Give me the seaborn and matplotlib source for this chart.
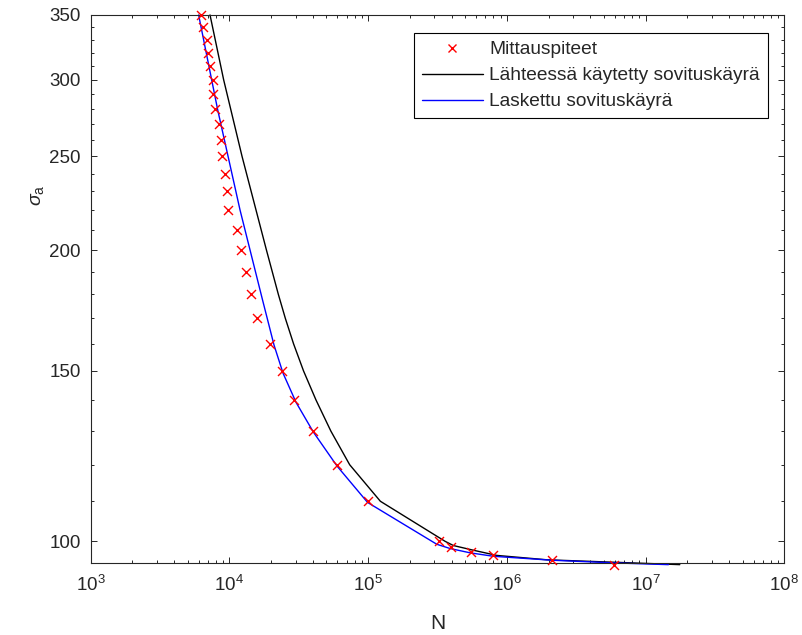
import matplotlib
matplotlib.use("Agg")
import matplotlib.pyplot as plt
from matplotlib.lines import Line2D
from matplotlib.ticker import FixedLocator, NullFormatter, LogLocator
import seaborn as sns

sns.set_theme(style="ticks")
plt.rcParams['font.family'] = ['Liberation Sans', 'DejaVu Sans']
plt.rcParams['mathtext.fontset'] = 'custom'
plt.rcParams['mathtext.rm'] = 'Liberation Sans'
plt.rcParams['mathtext.it'] = 'Liberation Sans:italic'

AX_COLOR = '#262626'

# Measured points (Mittauspiteet)
meas_sigma = [350, 340, 330, 320, 310, 300, 290, 280, 270, 260, 250, 240,
              230, 220, 210, 200, 190, 180, 170, 160, 150, 140, 130, 120,
              110, 100, 98.7, 97.5, 96.9, 95.6, 94.5]
meas_N = [6209, 6420, 6861, 7045, 7245, 7578, 7654, 7912, 8456, 8655, 8800,
          9296, 9561, 9819, 11288, 12122, 13176, 14243, 15893, 19621, 24068,
          29382, 40260, 59690, 99350, 324500, 398000, 547400, 788600,
          2107000, 5960000]

# Fit curve from the source (Lähteessä käytetty sovituskäyrä)
src_sigma = [350, 300, 250, 200, 180, 170, 160, 150, 140, 130, 120, 110,
             100, 99.0, 97.9, 96.7, 95.7, 94.6]
src_N = [7246, 9083, 12326, 18486, 22520, 25294, 28995, 34216, 42050, 53840,
         73560, 122460, 358500, 411500, 573500, 845600, 1940000, 17640000]

# Calculated fit curve (Laskettu sovituskäyrä)
fit_sigma = [350, 279.2, 220.0, 177.6, 159.5, 149.2, 139.2, 129.7, 119.6,
             109.7, 99.3, 98.3, 97.3, 96.5, 95.6, 95.0, 94.6]
fit_N = [5997, 8232, 11925, 17326, 20971, 24349, 30210, 40260, 59690, 99010,
         312400, 389500, 542800, 799000, 2107000, 5860000, 14600000]

y_major = [100, 150, 200, 250, 300, 350]
y_minor = [v for v in range(100, 351, 10) if v not in y_major]

fig = plt.figure(figsize=(8.02, 6.35), dpi=100)
ax = fig.add_axes([0.1131, 0.1129, 0.8649, 0.8635])

sns.lineplot(x=src_N, y=src_sigma, color='black', lw=1.0, ax=ax,
             sort=False, estimator=None, clip_on=False)
sns.lineplot(x=fit_N, y=fit_sigma, color='#0000ff', lw=1.0, ax=ax,
             sort=False, estimator=None, clip_on=False)
sns.scatterplot(x=meas_N, y=meas_sigma, marker='x', color='#ff0000', s=42,
                linewidth=1.0, ax=ax, clip_on=False, zorder=3)

ax.set_xscale('log')
ax.set_yscale('log')
ax.set_xlim(1e3, 1e8)
ax.set_ylim(94.9, 350)

ax.set_yticks(y_major, labels=[str(v) for v in y_major])
ax.yaxis.set_minor_locator(FixedLocator(y_minor))
ax.yaxis.set_minor_formatter(NullFormatter())
ax.xaxis.set_major_locator(LogLocator(base=10, numticks=10))
ax.xaxis.set_minor_locator(LogLocator(base=10, subs=range(2, 10), numticks=100))
ax.xaxis.set_minor_formatter(NullFormatter())

for s in ax.spines.values():
    s.set_visible(True)
    s.set_color(AX_COLOR)
    s.set_linewidth(0.8)

ax.tick_params(which='both', direction='in', top=True, right=True,
               colors=AX_COLOR, width=0.7)
ax.tick_params(which='major', length=4.5, labelsize=13.5)
ax.tick_params(axis='x', which='major', pad=8)
ax.tick_params(axis='y', which='major', pad=7)
ax.tick_params(which='minor', length=2.5)

ax.set_xlabel('N', fontsize=15, color=AX_COLOR, labelpad=14)
ax.set_ylabel(r'$\sigma_\mathrm{a}$', fontsize=14, color=AX_COLOR)
ax.yaxis.set_label_coords(-0.064, 0.672)

handles = [
    Line2D([], [], ls='none', marker='x', color='#ff0000', markersize=6,
           markeredgewidth=1.0),
    Line2D([], [], color='black', lw=1.0),
    Line2D([], [], color='#0000ff', lw=1.0),
]
labels = ['Mittauspiteet', 'Lähteessä käytetty sovituskäyrä',
          'Laskettu sovituskäyrä']
leg = ax.legend(handles, labels, loc='upper right',
                bbox_to_anchor=(0.976, 0.9666), fontsize=13.75,
                handlelength=3.2, handletextpad=0.35, labelspacing=0.45,
                borderpad=0.4, borderaxespad=0, fancybox=False,
                framealpha=1, edgecolor='black')
leg.get_frame().set_linewidth(0.8)

fig.savefig('out.png', dpi=100)
